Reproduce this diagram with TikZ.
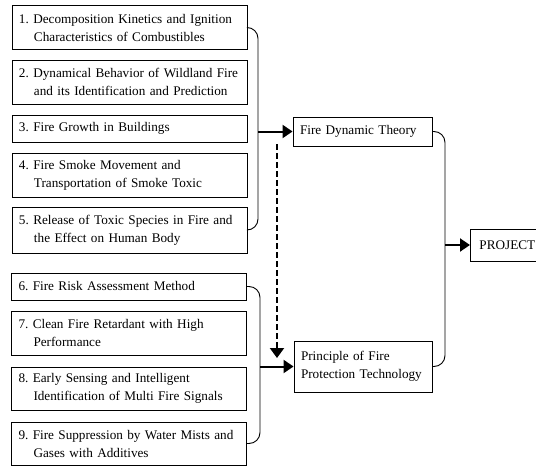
\documentclass[tikz,border=0pt]{standalone}
\usepackage{fontspec}
\setmainfont{Liberation Serif}
\usetikzlibrary{arrows.meta}
\begin{document}
\begin{tikzpicture}[x=1pt,y=-1pt,
  every node/.style={font=\fontsize{13.2}{18}\selectfont\frenchspacing},
  item/.style={draw, line width=0.9pt, minimum width=235pt, text width=221pt,
    inner xsep=7pt, inner ysep=0pt, align=left},
  two/.style={item, minimum height=44pt},
  one/.style={item, minimum height=27pt},
  mid/.style={draw, line width=0.9pt, minimum width=139pt, text width=125pt,
    inner xsep=7pt, inner ysep=0pt, align=left},
  brace/.style={line width=0.9pt, rounded corners=11pt},
  arr/.style={line width=2pt, -{Triangle[length=10pt,width=13pt]}},
  darr/.style={line width=2pt, dash pattern=on 6pt off 3pt, -{Triangle[length=10pt,width=14pt]}}
]
\useasboundingbox (0,0) rectangle (536,466);
\def\hi{\\\hspace*{15pt}}
\node[two] (b1) at (129.5,27.5) {1. Decomposition Kinetics and Ignition\hi Characteristics of Combustibles};
\node[two] (b2) at (129.5,82) {2. Dynamical Behavior of Wildland Fire\hi and its Identification and Prediction};
\node[one] (b3) at (129.5,128.5) {3. Fire Growth in Buildings};
\node[two] (b4) at (129.5,175) {4. Fire Smoke Movement and\hi Transportation of Smoke Toxic};
\node[two, minimum height=46pt] (b5) at (129.5,230) {5. Release of Toxic Species in Fire and\hi the Effect on Human Body};
\node[one] (b6) at (129,286.5) {6. Fire Risk Assessment Method};
\node[two] (b7) at (129,333) {7. Clean Fire Retardant with High\hi Performance};
\node[two, minimum height=43pt] (b8) at (129,388.5) {8. Early Sensing and Intelligent\hi Identification of Multi Fire Signals};
\node[two, minimum height=43pt] (b9) at (129,443.5) {9. Fire Suppression by Water Mists and\hi Gases with Additives};
\node[mid, minimum height=29pt] (fdt) at (362.5,131.5) {Fire Dynamic Theory};
\node[mid, minimum width=138pt, text width=124pt, minimum height=51pt] (pr) at (363,366.5)
  {Principle of Fire\\Protection Technology\par\vspace{11pt}};
\node[draw, line width=0.9pt, anchor=west, minimum height=32pt, minimum width=100pt,
  inner xsep=9pt, align=left, text width=82pt] (proj) at (470,245) {PROJECT};
\coordinate (bx1) at (258,0);
\coordinate (bx2) at (260,0);
\coordinate (bx3) at (445,0);
\coordinate (d1) at (277,144);
\coordinate (d2) at (277,358);
\draw[brace] (b1.east) -- (b1.east -| bx1) |- (b5.east);
\draw[brace] (b6.east) -- (b6.east -| bx2) |- (b9.east);
\draw[brace] (fdt.east) -- (fdt.east -| bx3) |- (pr.east);
\draw[arr] (bx1 |- fdt.west) -- (fdt.west);
\draw[arr] (bx2 |- pr.west) -- (pr.west);
\draw[arr] (bx3 |- proj.west) -- (proj.west);
\draw[darr] (d1) -- (d2);
\end{tikzpicture}
\end{document}
